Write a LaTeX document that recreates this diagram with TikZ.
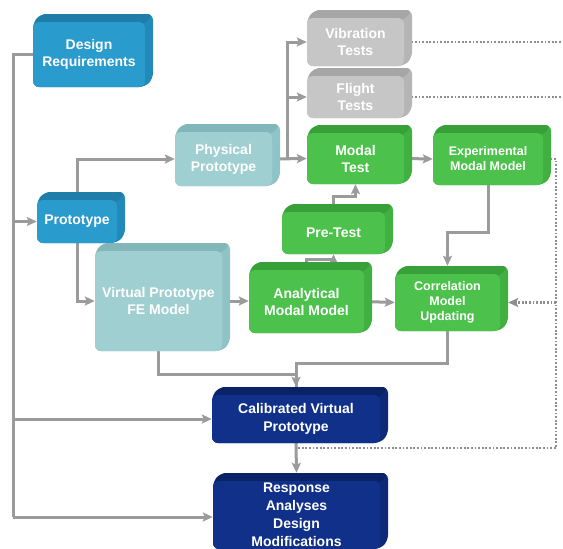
\documentclass[tikz,border=0pt]{standalone}
\usepackage{fontspec}
\setmainfont{Liberation Sans}
\usetikzlibrary{arrows.meta,backgrounds,calc}
\definecolor{bluefront}{HTML}{2A9BCD}
\definecolor{bluetop}{HTML}{1F7DAA}
\definecolor{blueside}{HTML}{2389B8}
\definecolor{tealfront}{HTML}{A0CFD1}
\definecolor{tealtop}{HTML}{82B6B8}
\definecolor{tealside}{HTML}{8FC4C6}
\definecolor{grayfront}{HTML}{C6C6C6}
\definecolor{graytop}{HTML}{A6A6A6}
\definecolor{grayside}{HTML}{B5B5B5}
\definecolor{greenfront}{HTML}{4CC24C}
\definecolor{greentop}{HTML}{38A038}
\definecolor{greenside}{HTML}{40B040}
\definecolor{navyfront}{HTML}{10308A}
\definecolor{navytop}{HTML}{0A2366}
\definecolor{navyside}{HTML}{0D2A78}
\definecolor{lc}{HTML}{9B9B9B}
\definecolor{dc}{HTML}{8E8E8E}
\newcommand\bigf{\bfseries\fontsize{14}{17}\selectfont}
\newcommand\bigff{\bfseries\fontsize{14}{18}\selectfont}
\newcommand\smallf{\bfseries\fontsize{12.5}{15}\selectfont}
\tikzset{
  cubefront/.style={rounded corners=6pt, inner sep=0pt, text=white, align=center},
  conn/.style={draw=lc, line width=3pt},
  arr/.style={conn, -{Stealth[length=10pt,width=9pt,inset=2pt]}},
  dotline/.style={draw=dc, line width=2.4pt, dash pattern=on 1.8pt off 1.8pt},
  dotarr/.style={dotline, -{Stealth[length=10pt,width=9pt,inset=2pt]}}
}
% #1 name, #2 x1, #3 y1, #4 x2, #5 y2, #6 colour family, #7 font, #8 text
\newcommand\cubeblock[8]{%
  \fill[#6side,rounded corners=6pt] (#2,#5) -- (#2,#3) -- (#2+8,#3-8) -- (#4+8,#3-8) -- (#4+8,#5-8) -- (#4,#5) -- cycle;
  \fill[#6top,rounded corners=5pt] (#2,#3+2) -- (#2+8,#3-8) -- (#4+8,#3-8) -- (#4,#3+2) -- cycle;
  \node[cubefront, fill=#6front, minimum width={(#4-#2)*1pt}, minimum height={(#5-#3)*1pt}, font=#7] (#1) at ({(#2+#4)/2},{(#3+#5)/2}) {#8};
}
\begin{document}
\begin{tikzpicture}[x=1pt,y=-1pt]
\useasboundingbox (0,0) rectangle (563,549);
\clip (0,0) rectangle (563,549);
\cubeblock{dr}{33}{22}{145}{87}{blue}{\bigf}{Design\\Requirements}
\cubeblock{proto}{37}{200}{117}{243}{blue}{\bigf}{Prototype}
\cubeblock{phys}{175}{132}{272}{186}{teal}{\bigf}{Physical\\Prototype}
\cubeblock{virt}{95}{251}{222}{351}{teal}{\bigf}{Virtual Prototype\\FE Model}
\cubeblock{vib}{307}{18}{404}{66}{gray}{\bigf}{Vibration\\Tests}
\cubeblock{flight}{307}{76}{404}{118}{gray}{\bigf}{Flight\\Tests}
\cubeblock{modal}{307}{133}{404}{184}{green}{\bigf}{Modal\\Test}
\cubeblock{exp}{433}{133}{543}{185}{green}{\smallf}{Experimental\\Modal Model}
\cubeblock{pre}{282}{212}{385}{254}{green}{\bigf}{Pre-Test}
\cubeblock{anal}{249}{270}{364}{333}{green}{\bigf}{Analytical\\Modal Model}
\cubeblock{corr}{395}{274}{500}{331}{green}{\smallf}{Correlation\\Model\\Updating}
\cubeblock{calib}{212}{395}{380}{443}{navy}{\bigff}{Calibrated Virtual\\Prototype}
\cubeblock{resp}{213}{481}{380}{549}{navy}{\bigff}{Response\\Analyses\\Design\\Modifications}
\begin{scope}[on background layer]
\fill[white] (0,0) rectangle (563,549);
\coordinate (trunk) at (13,0);
\coordinate (br) at (287,0);
\coordinate (rx) at (556,0);
\coordinate (edge) at (563,0);
\coordinate (cd) at ([yshift=-5pt]calib.south);
% left trunk
\draw[conn] (dr.west) -| (trunk |- 0,517);
\draw[arr] (trunk |- proto.west) -- (proto.west);
\draw[arr] (trunk |- calib.west) -- (calib.west);
\draw[arr] (trunk |- 0,517) -- (resp.west |- 0,517);
% prototype branches
\draw[arr] (proto.north) |- (phys.west);
\draw[arr] (proto.south) |- (virt.west);
% physical to tests
\draw[arr] (phys.east) -- (modal.west);
\draw[arr] (br |- phys.east) |- (vib.west);
\draw[arr] (br |- flight.west) -- (flight.west);
\draw[arr] (modal.east) -- (exp.west);
% pre-test links
\draw[arr] (pre.north) -- ++(0,-15) -| (modal.south);
\draw[arr] (anal.north) -- ++(0,-10) -| (pre.south);
% analytical chain
\draw[arr] (virt.east) -- (virt.east -| anal.west);
\draw[arr] (anal.east) -- (corr.west);
\draw[arr] (exp.south) -- ++(0,47) -| ([yshift=8pt]corr.north);
\draw[conn] (virt.south) -- ++(0,23) -| (calib.north);
\draw[arr] (corr.south) -- ++(0,32) -| ([yshift=8pt]calib.north);
\draw[arr] (calib.south) -- ([yshift=8pt]resp.north);
% dotted feedback
\draw[dotline] (vib.east) -- (vib.east -| edge);
\draw[dotline] (flight.east) -- (flight.east -| edge);
\draw[dotline] (exp.east) -| (rx |- cd) -- (cd);
\draw[dotarr] (rx |- corr.east) -- ([xshift=8pt]corr.east);
\end{scope}
\end{tikzpicture}
\end{document}
